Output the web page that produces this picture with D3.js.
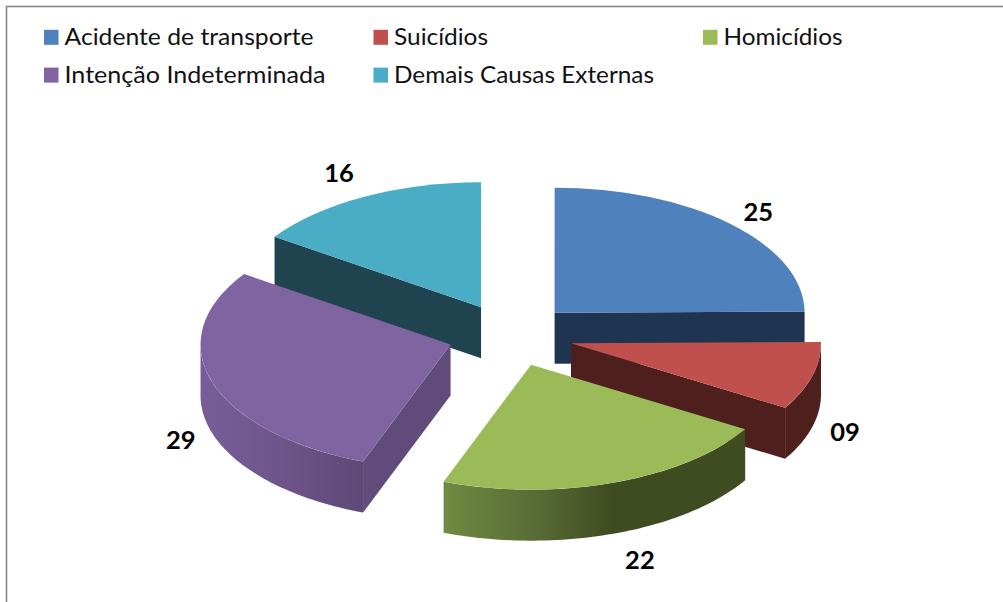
<!DOCTYPE html>
<html>
<head>
<meta charset="utf-8">
<style>
  html, body { margin: 0; padding: 0; background: #fff; overflow: hidden; }
  svg { display: block; }
</style>
<script src="https://cdn.jsdelivr.net/npm/d3@7"></script>
</head>
<body>
<svg id="chart" width="1003" height="602"></svg>
<script>
// data, slices are a bit off the printed whole numbers
const categories = ["Acidente de transporte", "Suicídios", "Homicídios", "Intenção Indeterminada", "Demais Causas Externas"];
const values = [24.9, 8.8, 22.1, 28.9, 15.5];

// colours of the slices
const topColours = ["#4f81bd", "#c0504d", "#9bbb59", "#8064a2", "#4bacc6"];
const wallColours = ["#1f3450", "#4f1f1e", "#3f4b21", "#614b7b", "#1f444f"];
// stops for the walls that have a shine on them [offset, colour]
const wallStops = {
  2: [[0, "#6f8b42"], [0.3, "#586c35"], [0.56, "#3f4b21"], [1, "#3f4b21"]],
  3: [[0, "#785e99"], [0.5, "#6d5589"], [1, "#5f4976"]]
};
const labelRadius = 285;                 // distance of each number from its slice tip
const labelDx = [3, -1, 15, 2, -9];      // hand nudges for the numbers
const labelDy = [1, 0, 10, 1, -8];
const legendWidths = [249, 94, 119, 261, 260];  // text is stretched wider in the original

/// pie geometry
const cx = 510.4, cy = 335;
const rx = 250;
const squash = 0.5;       // vertical flattening of the circle
const depth = 51;         // wall height
const explode = 62.8;     // how far the slices are pulled out

const svg = d3.select("#chart");
const defs = svg.append("defs");

// chart frame, right and bottom sides fall off the page
svg.append("rect")
  .attr("x", 6.5).attr("y", 6.5)
  .attr("width", 1100).attr("height", 700)
  .attr("fill", "#fff")
  .attr("stroke", "#868686")
  .attr("stroke-width", 1.6);

const pie = d3.pie().sort(null).value(d => d);
const arcs = pie(values).map((a, i) => {
  const mid = (a.startAngle + a.endAngle) / 2;
  return {
    i: i,
    a0: a.startAngle,
    a1: a.endAngle,
    mid: mid,
    x: cx + explode * Math.sin(mid),
    y: cy - explode * Math.cos(mid) * squash
  };
});

function rimX(s, ang) { return s.x + rx * Math.sin(ang); }
function rimY(s, ang) { return s.y - rx * Math.cos(ang) * squash; }

const line = d3.line();
const topArc = d3.arc().innerRadius(0).outerRadius(rx);

// straight cut wall from the tip of the slice out to the rim
function cutWall(s, ang) {
  return line([
    [s.x, s.y],
    [rimX(s, ang), rimY(s, ang)],
    [rimX(s, ang), rimY(s, ang) + depth],
    [s.x, s.y + depth]
  ]) + "Z";
}

// curved outer wall, only the part that faces the front
function outerWall(s) {
  const from = Math.max(s.a0, Math.PI / 2);
  const to = Math.min(s.a1, 3 * Math.PI / 2);
  if (to <= from) return null;
  const steps = d3.range(0, 61).map(k => from + (to - from) * k / 60);
  const upper = steps.map(t => [rimX(s, t), rimY(s, t)]);
  const lower = steps.slice().reverse().map(t => [rimX(s, t), rimY(s, t) + depth]);
  return line(upper.concat(lower)) + "Z";
}

function wallFill(s) {
  const stops = wallStops[s.i];
  if (!stops) return wallColours[s.i];
  const from = Math.max(s.a0, Math.PI / 2);
  const to = Math.min(s.a1, 3 * Math.PI / 2);
  const xs = d3.range(0, 61).map(k => rimX(s, from + (to - from) * k / 60));
  const grad = defs.append("linearGradient")
    .attr("id", "wall" + s.i)
    .attr("gradientUnits", "userSpaceOnUse")
    .attr("x1", d3.min(xs)).attr("x2", d3.max(xs))
    .attr("y1", 0).attr("y2", 0);
  grad.selectAll("stop").data(stops).enter().append("stop")
    .attr("offset", d => d[0])
    .attr("stop-color", d => d[1]);
  return "url(#wall" + s.i + ")";
}

// back slices first so the front ones cover them
const ordered = arcs.slice().sort((p, q) => p.y - q.y);

const slices = svg.selectAll("g.slice")
  .data(ordered)
  .enter()
  .append("g")
  .attr("class", "slice");

slices.each(function(s) {
  const g = d3.select(this);
  const flat = wallColours[s.i];
  if (s.a0 > Math.PI) {     // start cut looks to the viewer
    g.append("path").attr("d", cutWall(s, s.a0)).attr("fill", flat);
  }
  if (s.a1 < Math.PI) {     // end cut looks to the viewer
    g.append("path").attr("d", cutWall(s, s.a1)).attr("fill", flat);
  }
  const wall = outerWall(s);
  if (wall) {
    g.append("path").attr("d", wall).attr("fill", wallFill(s));
  }
  g.append("path")
    .attr("d", topArc({ startAngle: s.a0, endAngle: s.a1 }))
    .attr("transform", "translate(" + s.x + "," + s.y + ") scale(1," + squash + ")")
    .attr("fill", topColours[s.i]);
});

// numbers around the pie
const fmt = d3.format("02.0f");
svg.selectAll("text.value")
  .data(arcs)
  .enter()
  .append("text")
  .attr("class", "value")
  .attr("x", s => s.x + labelRadius * Math.sin(s.mid) + labelDx[s.i])
  .attr("y", s => s.y - labelRadius * Math.cos(s.mid) * squash + (Math.cos(s.mid) < 0 ? depth : 0) + 9 + labelDy[s.i])
  .attr("text-anchor", "middle")
  .style("font-family", "Lato")
  .style("font-weight", 700)
  .style("font-size", "25.5px")
  .attr("fill", "#000")
  .text(s => fmt(values[s.i]));

// legend, three columns
const legendX = d3.scalePoint().domain([0, 1, 2]).range([44, 703]);
const legendY = d3.scalePoint().domain([0, 1]).range([29.8, 67.6]);

const legend = svg.selectAll("g.legend")
  .data(categories)
  .enter()
  .append("g")
  .attr("class", "legend")
  .attr("transform", (d, i) => "translate(" + legendX(i % 3) + "," + legendY(Math.floor(i / 3)) + ")");

legend.append("rect")
  .attr("width", 14.5)
  .attr("height", 15)
  .attr("fill", (d, i) => topColours[i]);

legend.append("text")
  .attr("x", 20.5)
  .attr("y", 15.2)
  .attr("textLength", (d, i) => legendWidths[i])
  .attr("lengthAdjust", "spacingAndGlyphs")
  .style("font-family", "Lato")
  .style("font-size", "23.5px")
  .attr("fill", "#111")
  .text(d => d);
</script>
</body>
</html>
